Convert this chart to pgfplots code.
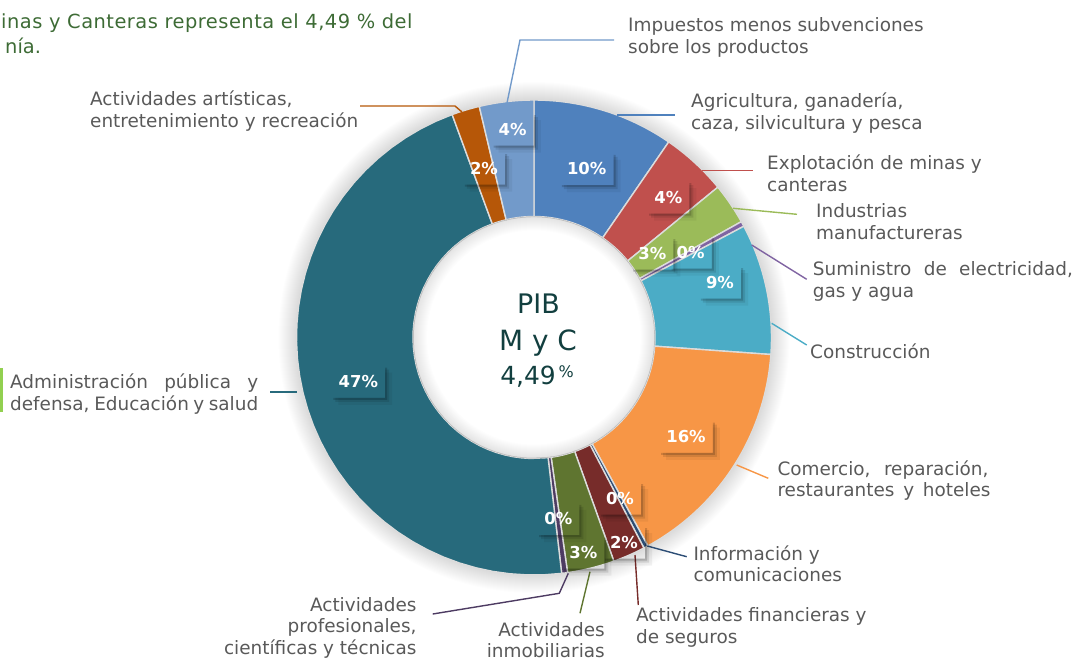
\documentclass[border=0pt]{standalone}
\usepackage{pgfplots}
\pgfplotsset{compat=1.18}
\usepackage{pgfplotstable}
\usepackage{fontspec}
\setmainfont{DejaVu Sans}

\definecolor{cAgri}{HTML}{4F81BD}
\definecolor{cMinas}{HTML}{C0504D}
\definecolor{cInd}{HTML}{9BBB59}
\definecolor{cSum}{HTML}{8064A2}
\definecolor{cConstr}{HTML}{4BACC6}
\definecolor{cCom}{HTML}{F79646}
\definecolor{cInfo}{HTML}{2C4D75}
\definecolor{cFin}{HTML}{772C2A}
\definecolor{cInmob}{HTML}{5F7530}
\definecolor{cProf}{HTML}{4D3B62}
\definecolor{cAdmin}{HTML}{276A7C}
\definecolor{cArt}{HTML}{B65708}
\definecolor{cImp}{HTML}{729ACA}
\definecolor{sepc}{HTML}{DCDCDC}
\definecolor{labtxt}{HTML}{595959}
\definecolor{ctext}{HTML}{123F3F}
\definecolor{gtext}{HTML}{3D6B35}
\definecolor{lime}{HTML}{92D050}

% Participacion de cada sector en el PIB (%), en el orden del anillo
\pgfplotstableread{
sector value
Agri 9.6
Minas 4.49
Ind 2.8
Sum 0.35
Constr 8.9
Com 15.9
Info 0.3
Fin 2.2
Inmob 3.2
Prof 0.4
Admin 46.26
Art 1.9
Imp 3.7
}\sectores

\gdef\acc{0}
\foreach \i in {0,...,12}{%
  \pgfplotstablegetelem{\i}{value}\of\sectores
  \let\v\pgfplotsretval
  \pgfmathsetmacro\s{\acc*3.6}%
  \pgfmathsetmacro\e{(\acc+\v)*3.6}%
  \expandafter\xdef\csname sA\i\endcsname{\s}%
  \expandafter\xdef\csname sB\i\endcsname{\e}%
  \pgfmathsetmacro\na{\acc+\v}%
  \xdef\acc{\na}%
}

\newcommand\slice[2]{%
  \edef\a{\csname sA#1\endcsname}\edef\b{\csname sB#1\endcsname}%
  \edef\doit{\noexpand\addplot[fill=#2, draw=sepc, line width=1.4bp, variable=\noexpand\t,
    samples at={0,0.025,...,0.975,1,1.00001,1.025,1.05,...,1.975,2,2.00001}]
   ({534+ifthenelse(\noexpand\t<=1,237.5,ifthenelse(\noexpand\t<=2,121,237.5))*sin(ifthenelse(\noexpand\t<=1,\a+\noexpand\t*(\b-\a),ifthenelse(\noexpand\t<=2,\b-(\noexpand\t-1)*(\b-\a),\a)))},
    {337.5-ifthenelse(\noexpand\t<=1,237.5,ifthenelse(\noexpand\t<=2,121,237.5))*cos(ifthenelse(\noexpand\t<=1,\a+\noexpand\t*(\b-\a),ifthenelse(\noexpand\t<=2,\b-(\noexpand\t-1)*(\b-\a),\a)))});}%
  \doit}

% L-shaped soft shadow at the right and bottom of a (transparent) label box
\newcommand\shad[2]{% offset, opacity
  \fill[black, opacity=#2]
    ([xshift=#1]pl.south west) -- (pl.south east) -- ([yshift=-#1]pl.north east)
    -- ([shift={(#1,-#1)}]pl.north east) -- ([shift={(#1,-#1)}]pl.south east)
    -- ([shift={(#1,-#1)}]pl.south west) -- cycle;}
\newcommand\pct[3]{% x y text
  \node[font=\fontsize{16.5}{17}\bfseries\selectfont, text=white, inner xsep=7bp, inner ysep=0pt,
        minimum height=32bp] (pl) at (axis cs:#1,#2) {#3};
  \shad{2bp}{0.16}\shad{4bp}{0.10}\shad{7bp}{0.05}%
}
\newcommand\lab[3]{\node[anchor=base west, inner sep=0pt, text=labtxt, font=\fontsize{18.5}{22}\selectfont] at (axis cs:#1,#2) {#3};}
\newcommand\labr[3]{\node[anchor=base east, inner sep=0pt, text=labtxt, font=\fontsize{18.5}{22}\selectfont] at (axis cs:#1,#2) {#3};}

\begin{document}
\begin{tikzpicture}
\begin{axis}[
  at={(0,0)}, anchor=south west,
  width=1079bp, height=660bp, scale only axis,
  xmin=0, xmax=1079, ymin=0, ymax=660, y dir=reverse,
  hide axis, clip=false,
]
% soft glow around the ring
\pgfplotsinvokeforeach{1,...,18}{\fill[black,opacity=0.006,even odd rule] (axis cs:534,337.5) circle[radius=237.5bp+#1bp] circle[radius=236bp];}

\slice{0}{cAgri}
\slice{1}{cMinas}
\slice{2}{cInd}
\slice{3}{cSum}
\slice{4}{cConstr}
\slice{5}{cCom}
\slice{6}{cInfo}
\slice{7}{cFin}
\slice{8}{cInmob}
\slice{9}{cProf}
\slice{10}{cAdmin}
\slice{11}{cArt}
\slice{12}{cImp}

% inner shadow of the hole
\pgfplotsinvokeforeach{1,...,14}{\fill[black,opacity=0.007,even odd rule] (axis cs:534,337.5) circle[radius=121bp] circle[radius=121bp-#1bp];}

% leader lines
\addplot[cImp, line width=1.4bp] coordinates {(507,103) (520,40) (614,40)};
\addplot[cArt, line width=1.4bp] coordinates {(462,112) (455,106) (360,106)};
\addplot[cAgri, line width=1.4bp] coordinates {(617,115) (675,115)};
\addplot[cMinas, line width=1.4bp] coordinates {(702,170.3) (753,170.3)};
\addplot[cInd, line width=1.4bp] coordinates {(733,208.3) (797,214.3)};
\addplot[cSum, line width=1.4bp] coordinates {(751.7,245) (806.7,279.3)};
\addplot[cConstr, line width=1.4bp] coordinates {(771.7,323.3) (806.7,345)};
\addplot[cCom, line width=1.4bp] coordinates {(736.7,465) (768.3,478.3)};
\addplot[cInfo, line width=1.4bp] coordinates {(647.3,546) (686.7,556.7)};
\addplot[cFin, line width=1.4bp] coordinates {(635,555) (638.3,605)};
\addplot[cInmob, line width=1.4bp] coordinates {(590,571.7) (580,613.3)};
\addplot[cProf, line width=1.4bp] coordinates {(568.3,573.3) (559.3,593.3) (432.7,614)};
\addplot[cAdmin, line width=1.4bp] coordinates {(297,392) (270,392)};

% percentage labels
\pct{512.7}{129.3}{4\%}
\pct{484}{168.3}{2\%}
\pct{586.7}{169}{10\%}
\pct{668.3}{197.3}{4\%}
\pct{652.3}{253.3}{3\%}
\pct{690.7}{252.3}{0\%}
\pct{720}{282.3}{9\%}
\pct{686}{436.7}{16\%}
\pct{620}{498.3}{0\%}
\pct{624}{542.3}{2\%}
\pct{583.3}{552.3}{3\%}
\pct{558.3}{519}{0\%}
\pct{358.3}{381.7}{47\%}

% centre text
\node[anchor=base, inner sep=0pt, text=ctext, font=\fontsize{27}{27}\selectfont] at (axis cs:538.5,313) {PIB};
\node[anchor=base, inner sep=0pt, text=ctext, font=\fontsize{28}{28}\selectfont] at (axis cs:538,350) {M y C};
\node[anchor=base east, inner sep=0pt, text=ctext, font=\fontsize{25}{25}\selectfont] at (axis cs:556,384) {4,49};
\node[anchor=base west, inner sep=0pt, text=ctext, font=\fontsize{16}{16}\selectfont] at (axis cs:558.5,377) {\%};

% category labels
\lab{628}{31}{Impuestos menos subvenciones}
\lab{628}{53}{sobre los productos}
\lab{691}{107.3}{Agricultura, ganadería,}
\lab{691}{129.5}{caza, silvicultura y pesca}
\lab{767}{169.3}{Explotación de minas y}
\lab{767}{191.7}{canteras}
\lab{816}{217.3}{Industrias}
\lab{816}{239.3}{manufactureras}
\lab{812.7}{275}{\makebox[260bp][s]{Suministro de electricidad,}}
\lab{812.7}{297.3}{gas y agua}
\lab{810}{358.3}{Construcción}
\lab{777.3}{475}{\makebox[211bp][s]{Comercio, reparación,}}
\lab{777.3}{496.7}{\makebox[213bp][s]{restaurantes y hoteles}}
\lab{693.3}{560}{Información y}
\lab{693.3}{581.7}{comunicaciones}
\lab{636}{621.7}{Actividades financieras y}
\lab{636}{643.3}{de seguros}
\labr{605}{636}{Actividades}
\labr{605}{657}{inmobiliarias}
\labr{416.7}{611.7}{Actividades}
\labr{416.7}{632.7}{profesionales,}
\labr{416.7}{654}{científicas y técnicas}
\lab{10}{388.3}{\makebox[248bp][s]{Administración pública y}}
\lab{10}{410.7}{\makebox[248bp][s]{defensa, Educación y salud}}
\lab{90}{105}{Actividades artísticas,}
\lab{90}{127}{entretenimiento y recreación}

% text at the top left (cut off by the edge in the reference)
\node[anchor=base west, inner sep=0pt, text=gtext, font=\fontsize{19.5}{22}\selectfont\addfontfeatures{LetterSpace=2.5}] at (axis cs:1,28.3) {inas y Canteras representa el 4,49 \% del};
\node[anchor=base west, inner sep=0pt, text=gtext, font=\fontsize{19.5}{22}\selectfont] at (axis cs:5,53) {nía.};
\fill[lime] (axis cs:0,368) rectangle (axis cs:3,412);
\end{axis}
\pgfresetboundingbox
\path[use as bounding box] (0,0) rectangle (1079bp,660bp);
\end{tikzpicture}
\end{document}
